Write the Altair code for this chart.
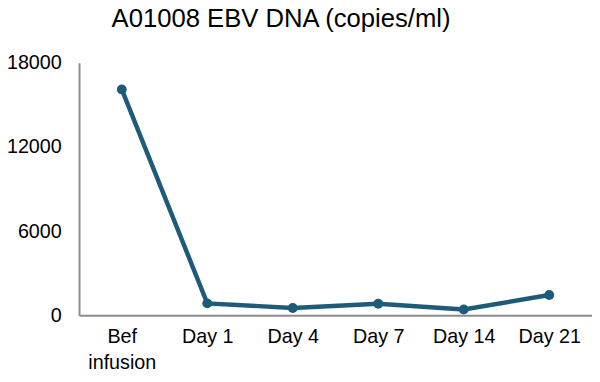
import altair as alt
import pandas as pd

categories = ["Bef infusion", "Day 1", "Day 4", "Day 7", "Day 14", "Day 21"]
values = [16100, 850, 520, 820, 410, 1450]
y_ticks = [0, 6000, 12000, 18000]

df = pd.DataFrame({"cat": categories, "val": values})

color = "#1d5b79"
font = "Liberation Sans"

x = alt.X(
    "cat:N",
    sort=categories,
    scale=alt.Scale(paddingInner=0, paddingOuter=0),
    axis=alt.Axis(
        title=None,
        labelAngle=0,
        labelFont=font,
        labelFontSize=20,
        labelColor="#000000",
        labelPadding=12,
        labelLineHeight=26,
        labelExpr="datum.label == 'Bef infusion' ? ['Bef', 'infusion'] : datum.label",
        ticks=False,
        domainColor="#8c8c8c",
        domainWidth=2,
        grid=False,
    ),
)
y = alt.Y(
    "val:Q",
    scale=alt.Scale(domain=[0, 18000], nice=False),
    axis=alt.Axis(
        title=None,
        values=y_ticks,
        format="d",
        labelFont=font,
        labelFontSize=20,
        labelColor="#000000",
        labelPadding=18,
        ticks=False,
        domainColor="#8c8c8c",
        domainWidth=2,
        grid=False,
    ),
)

base = alt.Chart(df).encode(x=x, y=y)
line = base.mark_line(color=color, strokeWidth=4.5)
pts = base.mark_point(color=color, filled=True, opacity=1, size=100)

chart = (
    alt.layer(line, pts)
    .properties(
        width=520,
        height=256,
        title=alt.TitleParams(
            "A01008 EBV DNA (copies/ml)",
            font=font,
            fontSize=26,
            fontWeight="normal",
            color="#000000",
            anchor="start",
            frame="group",
            offset=21,
            dx=33,
        ),
        autosize=alt.AutoSizeParams(type="none"),
        padding={"left": 72, "top": 53, "right": 0, "bottom": 57},
    )
    .configure_view(stroke=None)
)

chart.save("out.html", embed_options={"renderer": "svg", "actions": False})
